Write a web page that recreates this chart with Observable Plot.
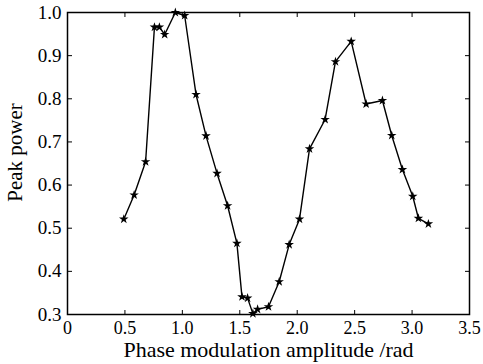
<!DOCTYPE html>
<html>
<head>
<meta charset="utf-8">
<script src="https://cdn.jsdelivr.net/npm/d3@7"></script>
<script src="https://cdn.jsdelivr.net/npm/@observablehq/plot@0.6"></script>
<style>
  html, body { margin: 0; padding: 0; background: #fff; }
  #chart svg, #chart svg text { font-family: "Liberation Serif", "DejaVu Serif", serif !important; }
</style>
</head>
<body>
<div id="chart"></div>
<script>
const amplitude = [0.49, 0.58, 0.68, 0.757, 0.80, 0.846, 0.939, 1.02, 1.119, 1.206, 1.302, 1.394, 1.475, 1.519, 1.568, 1.614, 1.655, 1.75, 1.843, 1.93, 2.02, 2.107, 2.243, 2.333, 2.47, 2.60, 2.742, 2.823, 2.916, 3.006, 3.055, 3.142];
const peakPower = [0.521, 0.577, 0.654, 0.966, 0.966, 0.949, 1.0, 0.993, 0.81, 0.714, 0.627, 0.552, 0.465, 0.341, 0.338, 0.302, 0.312, 0.318, 0.376, 0.462, 0.521, 0.684, 0.752, 0.886, 0.933, 0.788, 0.796, 0.715, 0.636, 0.574, 0.523, 0.510];
const xTicks = [0, 0.5, 1.0, 1.5, 2.0, 2.5, 3.0, 3.5];
const xTickLabels = ["0", "0.5", "1.0", "1.5", "2.0", "2.5", "3.0", "3.5"];
const yTicks = [0.3, 0.4, 0.5, 0.6, 0.7, 0.8, 0.9, 1.0];
const yTickLabels = ["0.3", "0.4", "0.5", "0.6", "0.7", "0.8", "0.9", "1.0"];
const xLabel = "Phase modulation amplitude /rad";
const yLabel = "Peak power";

const data = amplitude.map((a, i) => ({a, p: peakPower[i]}));
const serif = "'Liberation Serif', 'DejaVu Serif', serif";

const chart = Plot.plot({
  width: 483,
  height: 364,
  marginLeft: 67,
  marginRight: 14,
  marginTop: 12,
  marginBottom: 50,
  style: {fontFamily: serif, fontSize: "19px", color: "#000", background: "#fff"},
  x: {domain: [0, 3.5], axis: null},
  y: {domain: [0.3, 1.0], axis: null},
  marks: [
    Plot.axisX({anchor: "bottom", ticks: xTicks, tickSize: -4, text: null, label: null}),
    Plot.axisX({anchor: "top", ticks: xTicks, tickSize: -4, text: null, label: null}),
    Plot.axisY({anchor: "left", ticks: yTicks, tickSize: -5, text: null, label: null}),
    Plot.axisY({anchor: "right", ticks: yTicks, tickSize: -5, text: null, label: null}),
    Plot.text(xTicks, {x: d => d, text: (d, i) => xTickLabels[i], frameAnchor: "bottom", lineAnchor: "middle", textAnchor: "middle", dy: 13.5, fontSize: 18, fill: "#000", fontFamily: serif}),
    Plot.text(yTicks, {y: d => d, text: (d, i) => yTickLabels[i], frameAnchor: "left", lineAnchor: "middle", textAnchor: "end", dx: -6, fontSize: 19, fill: "#000", fontFamily: serif}),
    Plot.frame({stroke: "#000", strokeWidth: 1.5}),
    Plot.line(data, {x: "a", y: "p", stroke: "#000", strokeWidth: 1.4}),
    Plot.dot(data, {x: "a", y: "p", symbol: "star", fill: "#000", r: 3}),
    Plot.text([xLabel], {frameAnchor: "bottom", lineAnchor: "middle", textAnchor: "middle", dy: 35, fontSize: 22, fill: "#000", fontFamily: serif}),
    Plot.text([yLabel], {frameAnchor: "left", lineAnchor: "middle", textAnchor: "middle", dx: -52, dy: -11, rotate: -90, fontSize: 21, fill: "#000", fontFamily: serif})
  ]
});
document.getElementById("chart").appendChild(chart);
</script>
</body>
</html>
